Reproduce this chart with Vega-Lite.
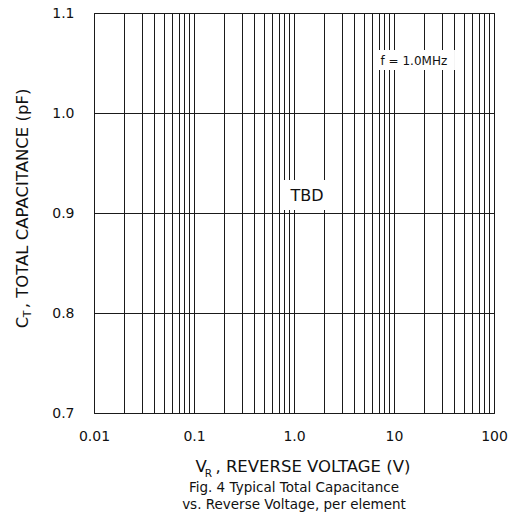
{
  "$schema": "https://vega.github.io/schema/vega-lite/v6.json",
  "width": 400,
  "height": 400,
  "autosize": {"type": "none"},
  "padding": {"left": 94, "top": 13, "right": 22, "bottom": 115},
  "background": "white",
  "config": {
    "font": "DejaVu Sans",
    "view": {"stroke": "#111111", "strokeWidth": 1}
  },
  "title": {
    "text": ["Fig. 4  Typical Total Capacitance", "vs. Reverse Voltage, per element"],
    "orient": "bottom",
    "anchor": "middle",
    "fontSize": 13.5,
    "fontWeight": "normal",
    "font": "DejaVu Sans",
    "lineHeight": 17,
    "offset": 2,
    "color": "#111111"
  },
  "layer": [
    {
      "data": {"values": [
        {"x1": 6.46, "x2": 40.7, "y1": 1.043, "y2": 1.063},
        {"x1": 0.776, "x2": 2.57, "y1": 0.903, "y2": 0.933}
      ]},
      "mark": {"type": "rect", "fill": "white", "stroke": null},
      "encoding": {
        "x": {
          "field": "x1", "type": "quantitative",
          "scale": {"type": "log", "domain": [0.01, 100], "nice": false},
          "axis": {
            "values": [0.01,0.02,0.03,0.04,0.05,0.06,0.07,0.08,0.09,0.1,0.2,0.3,0.4,0.5,0.6,0.7,0.8,0.9,1,2,3,4,5,6,7,8,9,10,20,30,40,50,60,70,80,90,100],
            "labelExpr": "datum.value == 0.01 ? '0.01' : datum.value == 0.1 ? '0.1' : datum.value == 1 ? '1.0' : datum.value == 10 ? '10' : datum.value == 100 ? '100' : ''",
            "labelOverlap": false,
            "labelFlush": false,
            "labelFont": "DejaVu Sans",
            "labelFontSize": 14,
            "labelColor": "#111111",
            "labelPadding": 16,
            "labelBaseline": "top",
            "ticks": false,
            "tickSize": 0,
            "domain": false,
            "grid": true,
            "gridColor": "#1a1a1a",
            "gridOpacity": 1,
            "gridWidth": 1,
            "title": "V\u00a0\u2009, REVERSE VOLTAGE (V)",
            "titleFont": "DejaVu Sans",
            "titleFontSize": 16.5,
            "titleFontWeight": "normal",
            "titleColor": "#111111",
            "titleX": 208.5,
            "titleY": 58,
            "titleAlign": "center",
            "titleBaseline": "alphabetic"
          }
        },
        "x2": {"field": "x2"},
        "y": {
          "field": "y1", "type": "quantitative",
          "scale": {"domain": [0.7, 1.1], "nice": false, "zero": false},
          "axis": {
            "values": [0.7, 0.8, 0.9, 1.0, 1.1],
            "format": ".1f",
            "labelFont": "DejaVu Sans",
            "labelFontSize": 14,
            "labelColor": "#111111",
            "labelPadding": 20,
            "labelFlush": false,
            "ticks": false,
            "tickSize": 0,
            "domain": false,
            "grid": true,
            "gridColor": "#1a1a1a",
            "gridOpacity": 1,
            "gridWidth": 1,
            "title": "C\u00a0\u2009, TOTAL CAPACITANCE (pF)",
            "titleFont": "DejaVu Sans",
            "titleFontSize": 16.5,
            "titleFontWeight": "normal",
            "titleColor": "#111111",
            "titleX": -67,
            "titleY": 195,
            "titleAngle": 270,
            "titleAlign": "center",
            "titleBaseline": "alphabetic"
          }
        },
        "y2": {"field": "y2"}
      }
    },
    {
      "data": {"values": [{"x": 15.8, "y": 1.052, "label": "f = 1.0MHz"}]},
      "mark": {"type": "text", "font": "DejaVu Sans", "fontSize": 12, "align": "center", "baseline": "middle", "color": "#111111"},
      "encoding": {
        "x": {"field": "x", "type": "quantitative"},
        "y": {"field": "y", "type": "quantitative"},
        "text": {"field": "label"}
      }
    },
    {
      "data": {"values": [{"x": 1.35, "y": 0.917, "label": "TBD"}]},
      "mark": {"type": "text", "font": "DejaVu Sans", "fontSize": 16, "align": "center", "baseline": "middle", "color": "#111111"},
      "encoding": {
        "x": {"field": "x", "type": "quantitative"},
        "y": {"field": "y", "type": "quantitative"},
        "text": {"field": "label"}
      }
    },
    {
      "data": {"values": [{"x": 0.1396, "y": 0.6365, "label": "R"}]},
      "mark": {"type": "text", "font": "DejaVu Sans", "fontSize": 10.5, "align": "center", "baseline": "alphabetic", "color": "#111111"},
      "encoding": {
        "x": {"field": "x", "type": "quantitative"},
        "y": {"field": "y", "type": "quantitative"},
        "text": {"field": "label"}
      }
    },
    {
      "data": {"values": [{"x": 0.00234, "y": 0.799, "label": "T"}]},
      "mark": {"type": "text", "font": "DejaVu Sans", "fontSize": 11, "angle": 270, "align": "center", "baseline": "alphabetic", "color": "#111111"},
      "encoding": {
        "x": {"field": "x", "type": "quantitative"},
        "y": {"field": "y", "type": "quantitative"},
        "text": {"field": "label"}
      }
    }
  ]
}
